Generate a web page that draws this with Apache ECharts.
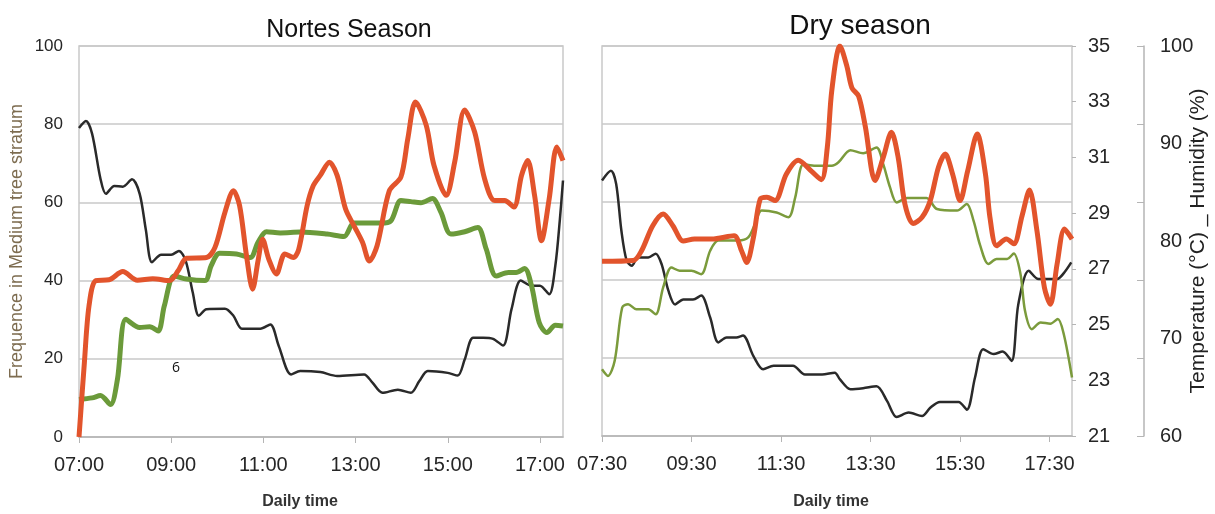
<!DOCTYPE html>
<html>
<head>
<meta charset="utf-8">
<script src="https://cdn.jsdelivr.net/npm/echarts@6/dist/echarts.min.js"></script>
<style>html,body{margin:0;padding:0;background:#fff}#c{width:1215px;height:514px}</style>
</head>
<body>
<div id="c"></div>
<script>
// Time values are minutes since midnight
const nortesTicks = ['07:00','09:00','11:00','13:00','15:00','17:00'];
const dryTicks = ['07:30','09:30','11:30','13:30','15:30','17:30'];
const freqTicks = [0,20,40,60,80,100];
const tempTicks = [21,23,25,27,29,31,33,35];
const humTicks = [60,70,80,90,100];

// Nortes season (frequency in medium tree stratum)
const nortesBlack = [[420,79],[429,80.8],[437,77.6],[448,66],[455,62.2],[466,64.2],[477,64],[489,65.9],[499,62.2],[507,53],[515,44.7],[527,46.6],[540,46.6],[550,47.6],[559,45],[568,37],[576,31],[586,32.7],[610,32.8],[621,31],[632,27.7],[656,27.7],[669,28.8],[680,23.3],[696,16],[708,16.9],[734,16.6],[756,15.6],[791,16],[802,13.9],[815,11.3],[835,12.1],[852,11.3],[863,14.3],[874,16.9],[900,16.4],[913,15.7],[922,19.8],[933,25.4],[946,25.4],[959,25.1],[972,23.4],[983,32.7],[995,40],[1009,38.7],[1020,38.7],[1032,36.5],[1040,43.8],[1046,55.8],[1050,65.6]];
const nortesRed = [[420,0],[427,19],[433,33.5],[442,40],[459,40.2],[477,42.3],[496,40.1],[516,40.5],[538,40],[549,42.5],[560,45.7],[586,45.9],[597,48.5],[610,57.5],[621,63],[629,59.2],[638,46.4],[646,37.8],[653,45],[659,50.6],[667,45.5],[677,41.7],[688,46.8],[699,45.9],[706,48],[717,59.2],[725,64.3],[734,66.9],[746,70.3],[756,66.9],[767,58.3],[778,54],[789,49.8],[798,45],[808,48.9],[824,63],[839,66.5],[848,76.3],[858,85.7],[872,79.7],[882,69.5],[898,61.8],[909,70.3],[922,83.6],[935,78],[948,66],[961,60.5],[974,60.5],[986,58.8],[996,66.9],[1004,70.7],[1013,61.8],[1022,50.2],[1032,60.9],[1042,74.2],[1050,70.7]];
const nortesGreen = [[420,9.6],[437,10],[448,10.6],[461,8.3],[470,14.7],[481,30.1],[499,28],[512,28.2],[523,27.1],[531,33.5],[544,41.2],[560,40.4],[584,40],[592,43.8],[603,47],[625,46.8],[643,45.9],[653,49.8],[664,52.5],[682,52.2],[708,52.4],[743,51.9],[765,51.3],[778,54.7],[813,54.7],[826,55.3],[839,60.5],[852,60.2],[865,59.9],[880,61],[891,57.5],[904,51.9],[922,52.5],[939,53.6],[950,48.1],[963,41.2],[979,42.1],[989,42.1],[1000,43.1],[1009,38.7],[1019,29.3],[1029,26.7],[1040,28.6],[1050,28.4]];

// Dry season
const dryTemp = [[450,27.27],[492,27.3],[503,27.65],[518,28.55],[532,28.97],[545,28.55],[559,28.0],[574,28.07],[597,28.07],[627,28.19],[637,27.65],[644,27.23],[653,28.13],[662,29.5],[671,29.57],[682,29.45],[697,30.4],[713,30.9],[731,30.5],[744,30.2],[752,31.36],[758,33.4],[769,35],[778,34.3],[785,33.5],[794,33.2],[803,32.1],[816,30.17],[827,31.0],[838,31.9],[847,31.0],[856,29.33],[867,28.63],[879,28.85],[890,29.45],[901,30.65],[910,31.12],[920,30.4],[930,29.45],[940,30.5],[953,31.84],[964,30.4],[970,28.85],[979,27.83],[992,28.07],[1002,27.9],[1013,28.9],[1023,29.83],[1033,28.37],[1043,26.33],[1051,25.73],[1060,27.17],[1070,28.43],[1080,28.07]];
const dryHumidity = [[450,86.2],[462,87.2],[469,85.85],[476,81.05],[483,78.0],[490,77.46],[498,78.3],[512,78.3],[522,78.7],[530,77.6],[539,74.9],[548,73.5],[559,74.0],[572,74.0],[583,74.4],[595,72.15],[606,69.6],[617,70.1],[630,70.1],[639,70.3],[653,68.2],[666,66.85],[680,67.2],[706,67.2],[722,66.3],[745,66.3],[762,66.5],[769,65.8],[783,64.8],[800,64.9],[818,65.1],[832,63.6],[845,61.95],[861,62.4],[879,62.05],[890,62.9],[903,63.5],[928,63.5],[939,62.7],[950,66.0],[961,68.9],[975,68.4],[987,68.66],[999,67.7],[1008,73.5],[1022,76.95],[1035,76.1],[1060,76.1],[1069,76.7],[1079,77.8]];
const dryFreq = [[450,17.1],[458,15.4],[467,19.3],[477,32.9],[485,33.8],[496,32.5],[512,32.5],[522,31.2],[532,38.1],[543,43.2],[554,42.4],[570,42.4],[583,41.5],[595,47.5],[606,50.1],[633,50.1],[646,50.9],[655,54.3],[664,57.8],[684,57.3],[700,56.1],[709,61.2],[720,69.7],[736,69.3],[758,69.3],[767,70.2],[783,73.3],[800,72.5],[818,74],[827,69.7],[836,63.8],[845,59.9],[859,61],[885,61],[899,58.2],[926,57.8],[939,59.5],[948,55.2],[957,48.8],[968,44.1],[979,45.4],[993,45.4],[1002,46.8],[1011,41.5],[1017,32.1],[1026,27.4],[1038,29.1],[1051,28.8],[1061,30],[1069,26.1],[1080,15]];

const toMin = s => { const p = s.split(':'); return (+p[0]) * 60 + (+p[1]); };
const fmt = v => String(Math.floor(v / 60)).padStart(2, '0') + ':' + String(Math.round(v % 60)).padStart(2, '0');

const RED = '#e2542c', GREEN = '#6b9a3a', GREEN2 = '#7b9b3c', BLACK = '#2a2a2a';
const GRIDC = '#c9c9c9', AXC = '#b5b5b5';
const FONT = '"Liberation Sans", Arial, sans-serif';
const LBL = '#262626';

function xAxisFor(gi, ticks, lo, hi) {
  const vals = ticks.map(toMin);
  return {
    type: 'value', gridIndex: gi, min: lo, max: hi,
    axisLine: { show: true, lineStyle: { color: AXC, width: 1.5 } },
    axisTick: { show: true, customValues: vals, length: 6, lineStyle: { color: AXC } },
    axisLabel: { customValues: vals, formatter: fmt, fontSize: 20, color: LBL, margin: 18, fontFamily: FONT, hideOverlap: false },
    splitLine: { show: false }
  };
}

const chart = echarts.init(document.getElementById('c'), null, { renderer: 'canvas' });
chart.setOption({
  animation: false,
  backgroundColor: '#fff',
  title: [
    { text: 'Nortes Season', left: 344, top: 13, textAlign: 'center', textStyle: { fontSize: 25, fontWeight: 'normal', color: '#111', fontFamily: FONT } },
    { text: 'Dry season', left: 855, top: 7, textAlign: 'center', textStyle: { fontSize: 28, fontWeight: 'normal', color: '#111', fontFamily: FONT } }
  ],
  grid: [
    { left: 79, top: 46, width: 484, height: 391, show: true, borderColor: GRIDC, borderWidth: 1.5, backgroundColor: 'transparent', containLabel: false, outerBoundsMode: 'none' },
    { left: 602, top: 46, width: 470, height: 390, show: true, borderColor: GRIDC, borderWidth: 1.5, backgroundColor: 'transparent', containLabel: false, outerBoundsMode: 'none' }
  ],
  xAxis: [
    xAxisFor(0, nortesTicks, 420, 1050),
    xAxisFor(1, dryTicks, 450, 1080)
  ],
  yAxis: [
    { type: 'value', gridIndex: 0, min: 0, max: 100, interval: 20,
      axisLine: { show: false }, axisTick: { show: false },
      axisLabel: { customValues: freqTicks, fontSize: 17, color: LBL, margin: 16, fontFamily: FONT },
      splitLine: { show: true, lineStyle: { color: GRIDC, width: 1.5 } },
      name: 'Frequence in Medium tree stratum', nameLocation: 'middle', nameGap: 53, nameMoveOverlap: false,
      nameTextStyle: { fontSize: 18, color: '#7d6c50', fontFamily: FONT } },
    { type: 'value', gridIndex: 1, position: 'right', offset: 72, min: 0, max: 100, interval: 20,
      axisLine: { show: true, lineStyle: { color: AXC, width: 1.5 } },
      axisTick: { show: true, inside: true, length: 7, lineStyle: { color: AXC } },
      axisLabel: { show: false },
      splitLine: { show: true, lineStyle: { color: GRIDC, width: 1.5 } } },
    { type: 'value', gridIndex: 1, position: 'right', offset: 0, min: 21, max: 35,
      axisLine: { show: false },
      axisTick: { show: true, customValues: tempTicks, length: 4, lineStyle: { color: AXC } },
      axisLabel: { customValues: tempTicks, fontSize: 20, color: LBL, margin: 16, fontFamily: FONT },
      splitLine: { show: false } },
    { type: 'value', gridIndex: 1, position: 'right', offset: 72, min: 60, max: 100, interval: 10,
      axisLine: { show: false }, axisTick: { show: false },
      axisLabel: { customValues: humTicks, fontSize: 20, color: LBL, margin: 16, fontFamily: FONT },
      splitLine: { show: false },
      name: 'Temperature (°C) _ Humidity (%)', nameLocation: 'middle', nameRotate: 90, nameGap: 44, nameMoveOverlap: false,
      nameTextStyle: { fontSize: 21, color: '#222', fontFamily: FONT } }
  ],
  graphic: [
    { type: 'text', left: 172, top: 361, style: { text: '6', fontSize: 14, fill: '#111', fontFamily: '"Open Sans", sans-serif' } },
    { type: 'text', x: 300, y: 502, style: { text: 'Daily time', fontSize: 16, fontWeight: 'bold', fill: '#333', fontFamily: FONT, align: 'center', verticalAlign: 'middle' } },
    { type: 'text', x: 831, y: 502, style: { text: 'Daily time', fontSize: 16, fontWeight: 'bold', fill: '#333', fontFamily: FONT, align: 'center', verticalAlign: 'middle' } }
  ],
  series: [
    { type: 'line', xAxisIndex: 0, yAxisIndex: 0, data: nortesBlack, showSymbol: false, smooth: 0.3, lineStyle: { color: BLACK, width: 2.5 }, z: 2 },
    { type: 'line', xAxisIndex: 0, yAxisIndex: 0, data: nortesGreen, showSymbol: false, smooth: 0.3, lineStyle: { color: GREEN, width: 5 }, z: 3 },
    { type: 'line', xAxisIndex: 0, yAxisIndex: 0, data: nortesRed, showSymbol: false, smooth: 0.3, lineStyle: { color: RED, width: 5 }, z: 4 },
    { type: 'line', xAxisIndex: 1, yAxisIndex: 3, data: dryHumidity, showSymbol: false, smooth: 0.3, lineStyle: { color: BLACK, width: 2.5 }, z: 2 },
    { type: 'line', xAxisIndex: 1, yAxisIndex: 1, data: dryFreq, showSymbol: false, smooth: 0.3, lineStyle: { color: GREEN2, width: 2.5 }, z: 3 },
    { type: 'line', xAxisIndex: 1, yAxisIndex: 2, data: dryTemp, showSymbol: false, smooth: 0.3, lineStyle: { color: RED, width: 5 }, z: 4 }
  ]
});
</script>
</body>
</html>
